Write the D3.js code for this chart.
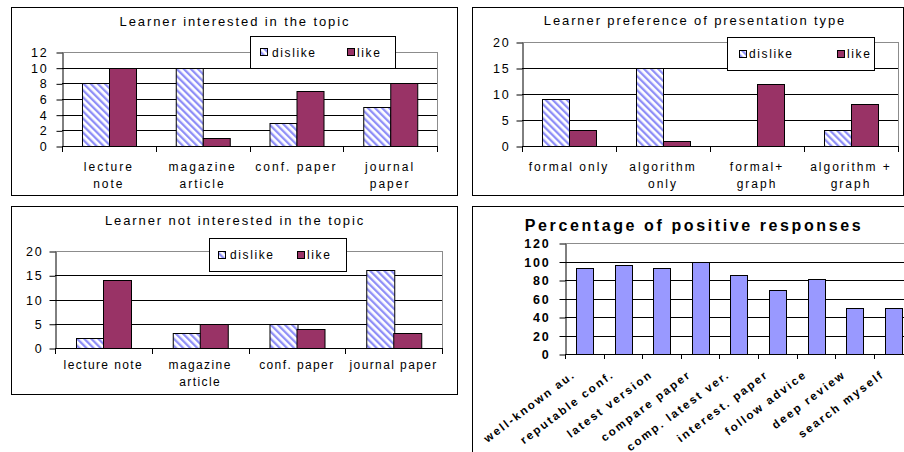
<!DOCTYPE html>
<html>
<head>
<meta charset="utf-8">
<script src="https://cdn.jsdelivr.net/npm/d3@7"></script>
<style>
  html, body { margin: 0; padding: 0; background: #fff; }
  svg { display: block; }
  text { font-family: "Liberation Sans", Arial, sans-serif; fill: #000; }
</style>
</head>
<body>
<svg id="chart" width="904" height="452"></svg>
<script>
// Learner interested in the topic
const interestCategories = ["lecture\nnote", "magazine\narticle", "conf. paper", "journal\npaper"];
const interestDislike = [8, 10, 3, 5];
const interestLike = [10, 1, 7, 8];
const interestTicks = [0, 2, 4, 6, 8, 10, 12];

// Learner preference of presentation type
const presentCategories = ["formal only", "algorithm\nonly", "formal+\ngraph", "algorithm +\ngraph"];
const presentDislike = [9, 15, 0, 3];
const presentLike = [3, 1, 12, 8];
const presentTicks = [0, 5, 10, 15, 20];

// Learner not interested in the topic
const noInterestCategories = ["lecture note", "magazine\narticle", "conf. paper", "journal paper"];
const noInterestDislike = [2, 3, 5, 16];
const noInterestLike = [14, 5, 4, 3];
const noInterestTicks = [0, 5, 10, 15, 20];

// Percentage of positive responses
const responseCategories = ["well-known au.", "reputable conf.", "latest version", "compare paper",
  "comp. latest ver.", "interest. paper", "follow advice", "deep review", "search myself"];
const responsePercent = [93, 96, 93, 100, 85, 69, 81, 50, 50];
const responseTicks = [0, 20, 40, 60, 80, 100, 120];

const seriesNames = ["dislike", "like"];

const svg = d3.select("#chart");
const defs = svg.append("defs");

// diagonal blue hatch used for the "dislike" series
const hatch = defs.append("pattern")
  .attr("id", "hatch")
  .attr("patternUnits", "userSpaceOnUse")
  .attr("width", 5).attr("height", 5)
  .attr("patternTransform", "rotate(-45)");
hatch.append("rect").attr("width", 5).attr("height", 5).attr("fill", "#fff");
hatch.append("rect").attr("width", 2.3).attr("height", 5).attr("fill", "#8f8ff7");

const fills = { dislike: "url(#hatch)", like: "#993366" };
const gridGray = "#8c8c8c";

function frame(x, y, w, h) {
  svg.append("rect")
    .attr("x", x + 0.5).attr("y", y + 0.5)
    .attr("width", w).attr("height", h)
    .attr("fill", "#fff").attr("stroke", "#000").attr("stroke-width", 1);
}

function hline(g, x1, x2, y, color) {
  g.append("line")
    .attr("x1", x1).attr("x2", x2)
    .attr("y1", Math.round(y) + 0.5).attr("y2", Math.round(y) + 0.5)
    .attr("stroke", color).attr("stroke-width", 1);
}

function vline(g, x, y1, y2, color) {
  g.append("line")
    .attr("x1", Math.round(x) + 0.5).attr("x2", Math.round(x) + 0.5)
    .attr("y1", y1).attr("y2", y2)
    .attr("stroke", color).attr("stroke-width", 1);
}

function groupedChart(cfg) {
  const g = svg.append("g");
  const maxTick = d3.max(cfg.ticks);
  const y = d3.scaleLinear().domain([0, maxTick]).range([cfg.bottom, cfg.top]);
  const x0 = d3.scaleBand().domain(cfg.categories).range([cfg.left, cfg.right]);
  const x1 = d3.scaleBand().domain(seriesNames).range([0, x0.bandwidth()]).paddingOuter(0.75);

  // title
  g.append("text")
    .attr("x", cfg.titleX).attr("y", cfg.titleY)
    .attr("text-anchor", "middle")
    .style("font-size", "13px").style("letter-spacing", "1.9px")
    .text(cfg.title);

  // horizontal gridlines, top edge of plot area in gray
  cfg.ticks.filter(t => t > 0 && t < maxTick).forEach(t => hline(g, cfg.left, cfg.right, y(t), "#000"));
  hline(g, cfg.left, cfg.right, y(maxTick), gridGray);
  vline(g, cfg.right, y(maxTick), y(0), gridGray);

  // bars
  const rows = cfg.categories.map((c, i) => ({
    cat: c,
    vals: [{ s: "dislike", v: cfg.dislike[i] }, { s: "like", v: cfg.like[i] }]
  }));
  g.selectAll("g.cat").data(rows).join("g")
    .attr("class", "cat")
    .attr("transform", d => `translate(${x0(d.cat)},0)`)
    .selectAll("rect").data(d => d.vals.filter(v => v.v > 0)).join("rect")
    .attr("x", d => Math.round(x1(d.s)) + 0.5)
    .attr("width", Math.round(x1.bandwidth()))
    .attr("y", d => Math.round(y(d.v)) + 0.5)
    .attr("height", d => Math.round(y(0)) - Math.round(y(d.v)))
    .attr("fill", d => fills[d.s])
    .attr("stroke", "#000").attr("stroke-width", 1);

  // y axis
  const yAxis = d3.axisLeft(y).tickValues(cfg.ticks).tickSize(6).tickPadding(cfg.tickPad).tickSizeOuter(0);
  const ya = g.append("g").attr("transform", `translate(${Math.round(cfg.left) + 0.5},0.5)`).call(yAxis);
  ya.select(".domain").attr("stroke", "#000");
  ya.selectAll(".tick line").attr("stroke", "#000");
  ya.selectAll(".tick text")
    .style("font-family", "\"Liberation Sans\", Arial, sans-serif")
    .style("font-size", "12.5px").style("letter-spacing", "1.8px")
    .attr("fill", "#000");

  // x axis: baseline with ticks at category boundaries
  hline(g, cfg.left, cfg.right + 1, y(0), "#000");
  const bounds = cfg.categories.map(c => x0(c)).concat([cfg.right]);
  bounds.forEach(b => vline(g, b, y(0), y(0) + 6, "#000"));

  // category labels (may wrap onto two lines)
  cfg.categories.forEach(c => {
    const t = g.append("text")
      .attr("x", x0(c) + x0.bandwidth() / 2)
      .attr("y", y(0) + cfg.labelDy)
      .attr("text-anchor", "middle")
      .style("font-size", "12px").style("letter-spacing", cfg.labelSpacing);
    c.split("\n").forEach((line, i) => {
      t.append("tspan")
        .attr("x", x0(c) + x0.bandwidth() / 2)
        .attr("dy", i === 0 ? 0 : 17)
        .text(line);
    });
  });

  // legend
  const L = cfg.legend;
  const lg = g.append("g").attr("transform", `translate(${L.x},${L.y})`);
  lg.append("rect").attr("x", 0.5).attr("y", 0.5).attr("width", L.w).attr("height", L.h)
    .attr("fill", "#fff").attr("stroke", "#000");
  seriesNames.forEach((s, i) => {
    lg.append("rect")
      .attr("x", L.swatchX[i] + 0.5).attr("y", Math.round(L.h / 2) - 3.5)
      .attr("width", 7).attr("height", 7)
      .attr("fill", fills[s]).attr("stroke", "#000");
    lg.append("text")
      .attr("x", L.textX[i]).attr("y", L.h / 2 + 4.5)
      .style("font-size", "12px").style("letter-spacing", "1.6px")
      .text(s);
  });
}

// panel frames
frame(11, 7, 446, 188);
frame(472, 7, 431, 188);
frame(11, 206, 446, 188);
frame(472, 206, 500, 300);

groupedChart({
  categories: interestCategories, dislike: interestDislike, like: interestLike, ticks: interestTicks,
  left: 62, right: 437, top: 52, bottom: 146, tickPad: 8,
  title: "Learner interested in the topic", titleX: 235, titleY: 25.5,
  labelDy: 25, labelSpacing: "2px",
  legend: { x: 250, y: 36, w: 145, h: 32, swatchX: [10, 97], textX: [22, 107] }
});

groupedChart({
  categories: presentCategories, dislike: presentDislike, like: presentLike, ticks: presentTicks,
  left: 522, right: 898, top: 42, bottom: 146, tickPad: 6,
  title: "Learner preference of presentation type", titleX: 695, titleY: 25,
  labelDy: 25, labelSpacing: "2px",
  legend: { x: 727, y: 37, w: 147, h: 33, swatchX: [12, 110], textX: [22, 120] }
});

groupedChart({
  categories: noInterestCategories, dislike: noInterestDislike, like: noInterestLike, ticks: noInterestTicks,
  left: 55, right: 442, top: 251, bottom: 348, tickPad: 6,
  title: "Learner not interested in the topic", titleX: 235, titleY: 225,
  labelDy: 21, labelSpacing: "1.4px",
  legend: { x: 209, y: 238, w: 137, h: 33, swatchX: [9, 88], textX: [21, 98] }
});

// Percentage of positive responses
(function () {
  const g = svg.append("g");
  const left = 565, top = 243, bottom = 354;
  const y = d3.scaleLinear().domain([0, d3.max(responseTicks)]).range([bottom, top]);
  const x = d3.scaleBand().domain(responseCategories)
    .range([left, left + 9 * 38.6]).paddingInner(0.57).paddingOuter(0.285);
  const right = left + 9 * 38.6;
  const step = x.step();

  g.append("text")
    .attr("x", 694).attr("y", 231)
    .attr("text-anchor", "middle")
    .style("font-size", "16px").style("font-weight", "bold").style("letter-spacing", "2.6px")
    .text("Percentage of positive responses");

  responseTicks.filter(t => t > 0 && t < 120).forEach(t => hline(g, left, right, y(t), "#000"));
  hline(g, left, right, y(120), gridGray);

  g.selectAll("rect.bar").data(responseCategories.map((c, i) => ({ c, v: responsePercent[i] })))
    .join("rect").attr("class", "bar")
    .attr("x", d => Math.round(x(d.c)) + 0.5)
    .attr("width", Math.round(x.bandwidth()))
    .attr("y", d => Math.round(y(d.v)) + 0.5)
    .attr("height", d => Math.round(y(0)) - Math.round(y(d.v)))
    .attr("fill", "#9999ff").attr("stroke", "#000");

  const yAxis = d3.axisLeft(y).tickValues(responseTicks).tickSize(6).tickPadding(9).tickSizeOuter(0);
  const ya = g.append("g").attr("transform", `translate(${left + 0.5},0.5)`).call(yAxis);
  ya.select(".domain").attr("stroke", "#000");
  ya.selectAll(".tick line").attr("stroke", "#000");
  ya.selectAll(".tick text")
    .style("font-family", "\"Liberation Sans\", Arial, sans-serif")
    .style("font-size", "12.5px").style("font-weight", "bold").style("letter-spacing", "1.8px")
    .attr("fill", "#000");

  hline(g, left, right, y(0), "#000");
  responseCategories.forEach((c, i) => vline(g, left + i * step, y(0), y(0) + 5, "#000"));

  responseCategories.forEach(c => {
    const cx = x(c) + x.bandwidth() / 2 - 8;
    const cy = y(0) + 22;
    g.append("text")
      .attr("transform", `translate(${cx},${cy}) rotate(-37)`)
      .attr("text-anchor", "end")
      .style("font-size", "11.5px").style("font-weight", "bold").style("letter-spacing", "2.1px")
      .text(c);
  });
})();
</script>
</body>
</html>
